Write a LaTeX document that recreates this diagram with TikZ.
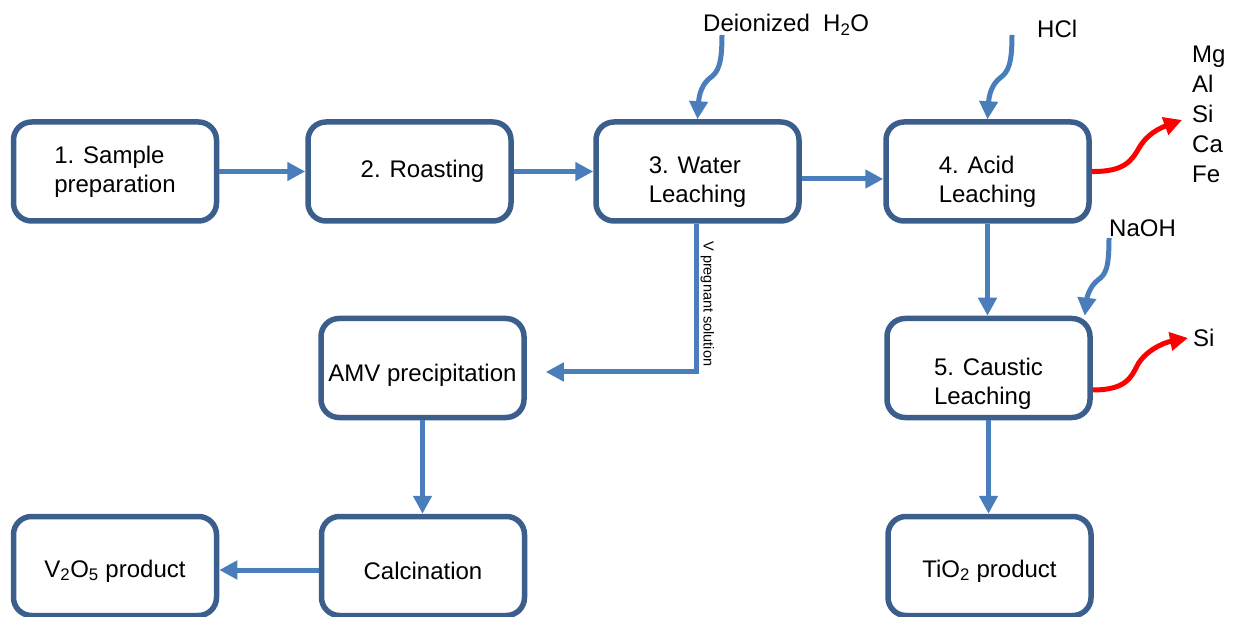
\documentclass[tikz,border=0pt]{standalone}
\usepackage{fontspec}
\setmainfont{Liberation Sans}
\usetikzlibrary{arrows.meta}
\definecolor{boxblue}{HTML}{3B5E8C}
\definecolor{flowblue}{HTML}{4A7EBB}
\newcommand{\textdrop}[1]{\rule{0pt}{#1}}
\tikzset{
  stage/.style={draw=boxblue,line width=5.5pt,rounded corners=18pt,fill=white,
    minimum width=203pt,minimum height=99pt,inner sep=2pt,align=left,
    font=\fontsize{24}{29}\selectfont},
  flow/.style={draw=flowblue,line width=5pt,-{Triangle[length=18pt,width=18pt]}},
  waste/.style={draw=red,line width=5pt,-{Triangle[length=18pt,width=18pt]}},
  chem/.style={font=\fontsize{24}{30}\selectfont,inner sep=0pt,align=left}
}

\begin{document}
\begin{tikzpicture}[x=1pt,y=-1pt]
    \useasboundingbox (0,0) rectangle (1234,617);
    \node[stage] (prep) at (115,171.5) {1. Sample\\preparation};
    \node[stage] (roast) at (409.5,171.5) {\hspace*{26pt}2. Roasting};
    \node[stage] (water) at (697.5,171.5) {\textdrop{37pt}3. Water\\Leaching};
    \node[stage] (acid) at (987.5,171.5) {\textdrop{38pt}4. Acid\\Leaching};
    \node[stage] (amv) at (422.5,368) {\textdrop{31pt}AMV precipitation};
    \node[stage] (caustic) at (988.5,368) {\textdrop{49pt}5. Caustic\\Leaching};
    \node[stage] (vprod) at (115,566) {\textdrop{27pt}V\textsubscript{2}O\textsubscript{5} product};
    \node[stage] (calc) at (423,566) {\textdrop{28pt}Calcination};
    \node[stage] (tiprod) at (989.5,566) {\textdrop{27pt}TiO\textsubscript{2} product};
    \node[chem,anchor=base west] (dih2o) at (703,32) {Deionized\ \ H\textsubscript{2}O};
    \node[chem,anchor=base west] (hcl) at (1037,38) {HCl};
    \node[chem,anchor=base west] (naoh) at (1109,237) {NaOH};
    \node[chem,anchor=north west] (acidout) at (1192,46) {Mg\\Al\\Si\\Ca\\Fe};
    \node[chem,anchor=base west] (causticout) at (1193,347) {Si};
    \coordinate (dstart) at (722,35);
    \coordinate (hstart) at (1012,35);
    \coordinate (nstart) at (1109,238);
    \coordinate (redtipa) at (1182,120);
    \coordinate (redtipb) at (1188,338);

    \draw[flow] (prep) -- (roast);
    \draw[flow] (roast) -- (water);
    \draw[flow] ([yshift=-7.5pt]water.east) -- ([yshift=-7.5pt]acid.west);
    \draw[flow] (acid.south) -- (acid.south |- caustic.north);
    \draw[flow] (caustic.south) -- (caustic.south |- tiprod.north);
    \draw[flow] (amv.south) -- (amv.south |- calc.north);
    \draw[flow] ([yshift=-4pt]calc.west) -- ([yshift=-4pt]vprod.east);
    \draw[flow,shorten >=19pt] ([xshift=-1.5pt]water.south) |- ([yshift=-4pt]amv.east)
      node[pos=0.27,rotate=-90,anchor=south,inner sep=2pt,font=\fontsize{14.5}{17}\selectfont] (vsol) {V pregnant solution};

    \draw[flow] (dstart) .. controls (722,65) and (718,72) .. (710,78)
      .. controls (702,84) and (699,95) .. (water.north);
    \draw[flow] (hstart) .. controls (1012,65) and (1008,72) .. (1000,78)
      .. controls (992,84) and (989,95) .. (acid.north);
    \draw[flow] (nstart) .. controls (1109,268) and (1106,274) .. (1098,280)
      .. controls (1090,286) and (1087,297) .. ([xshift=-8pt]caustic.north east);

    \draw[waste] (acid.east) .. controls (1125,172) and (1132,160) .. (1139,148)
      .. controls (1147,134) and (1160,128) .. (redtipa);
    \draw[waste] ([yshift=-22pt]caustic.east) .. controls (1125,390) and (1131,378) .. (1137,366)
      .. controls (1144,352) and (1162,343) .. (redtipb);
\end{tikzpicture}
\end{document}
